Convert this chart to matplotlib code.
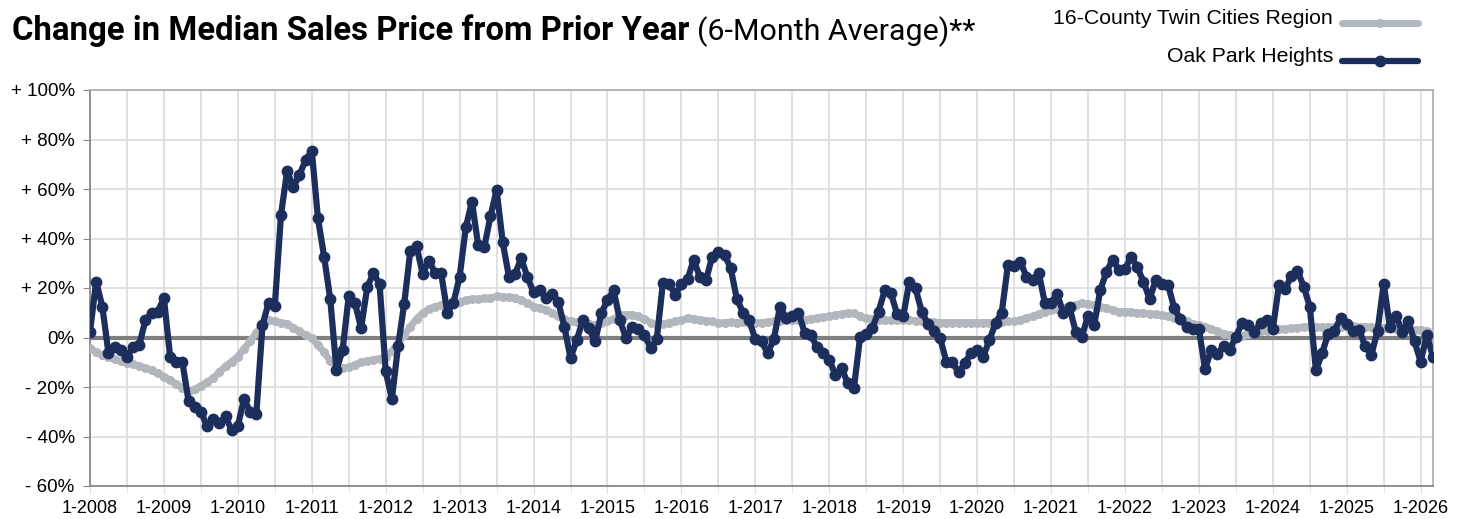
import matplotlib
matplotlib.use("Agg")
import matplotlib.pyplot as plt
from matplotlib.lines import Line2D

# monthly values, 1-2008 .. 3-2026 (percent change, 6-month average)
region = [
    -4.3, -5.8, -7.0, -8.0, -8.8, -9.6, -10.2, -10.7, -11.5, -12.3, -13.3, -14.5,
    -15.8, -17.3, -18.8, -20.3, -21.8, -21.0, -19.5, -18.0, -16.4, -14.0, -11.7, -9.7,
    -7.7, -4.5, -1.5, 2.0, 5.0, 7.0, 6.5, 6.0, 5.5, 4.0, 2.5, 1.0,
    -0.3, -3.0, -6.0, -9.5, -11.7, -12.4, -12.0, -11.0, -10.0, -9.5, -9.0, -8.5,
    -7.7, -5.5, -2.3, 1.0, 4.4, 7.5, 9.8, 11.5, 12.5, 13.0, 13.2, 14.0,
    14.5, 15.0, 15.5, 15.5, 15.8, 16.0, 16.6, 16.5, 16.2, 15.8, 15.0, 14.0,
    12.5, 12.0, 11.2, 10.0, 8.5, 7.5, 6.5, 6.2, 6.0, 5.5, 5.1, 5.8,
    6.5, 7.5, 9.0, 9.2, 9.2, 8.5, 7.5, 6.0, 5.1, 5.5, 6.0, 6.5,
    7.0, 7.8, 7.5, 7.1, 6.8, 6.5, 5.8, 6.0, 6.2, 6.0, 6.2, 6.0,
    6.0, 6.0, 6.2, 6.5, 6.8, 7.1, 7.1, 7.0, 7.2, 7.5, 7.8, 8.2,
    8.5, 9.0, 9.5, 9.8, 9.8, 8.5, 7.8, 7.5, 7.1, 7.0, 7.0, 7.1,
    7.1, 7.0, 6.8, 6.5, 6.3, 6.2, 6.0, 6.0, 6.0, 6.0, 6.0, 6.0,
    6.0, 6.0, 6.0, 6.2, 6.3, 6.5, 6.5, 7.0, 7.8, 8.5, 9.5, 10.5,
    11.0, 11.5, 11.8, 12.5, 13.2, 13.9, 13.5, 13.0, 12.5, 11.8, 11.0, 10.5,
    10.5, 10.2, 10.0, 9.8, 9.6, 9.3, 9.0, 8.5, 8.0, 7.5, 6.5, 5.5,
    5.0, 4.4, 3.5, 2.5, 1.5, 1.1, 0.5, 0.8, 1.5, 2.0, 2.5, 2.8,
    3.1, 3.3, 3.5, 3.8, 4.0, 4.2, 4.4, 4.4, 4.2, 4.2, 4.3, 4.4,
    4.4, 4.5, 4.4, 4.3, 4.2, 4.0, 3.8, 3.8, 3.6, 3.5, 3.3, 3.1,
    3.0, 2.5, 2.0,
]

oak_park = [
    2.4, 22.6, 12.5, -6.3, -3.9, -5.2, -7.7, -3.9, -3.0, 7.1, 9.8, 10.5,
    15.9, -7.7, -9.7, -10.0, -25.8, -27.9, -29.9, -35.9, -33.0, -34.6, -31.9, -37.5,
    -35.7, -24.9, -29.9, -30.8, 5.1, 14.1, 12.8, 49.5, 67.3, 60.7, 65.7, 71.7,
    75.4, 48.2, 32.7, 15.5, -13.0, -5.2, 16.8, 14.1, 3.8, 20.3, 26.0, 21.7,
    -13.7, -24.9, -3.6, 13.6, 35.1, 37.0, 25.7, 31.1, 26.2, 26.0, 10.1, 14.1,
    24.6, 44.5, 54.9, 37.4, 36.5, 48.9, 59.6, 38.4, 24.6, 25.7, 32.0, 24.4,
    18.2, 19.2, 15.9, 17.6, 14.5, 4.4, -8.3, -1.2, 7.1, 3.8, -1.6, 9.8,
    15.2, 19.0, 7.1, -0.3, 4.4, 3.4, 1.1, -4.3, -0.7, 22.2, 21.7, 17.2,
    21.7, 23.6, 31.4, 24.4, 23.3, 32.7, 34.7, 33.4, 28.0, 15.5, 10.1, 6.9,
    -0.7, -1.6, -6.3, -0.7, 12.5, 7.8, 8.5, 10.1, 2.0, 1.1, -3.9, -6.1,
    -9.0, -15.1, -12.4, -18.4, -20.5, 0.1, 1.5, 3.8, 10.5, 19.0, 17.9, 9.6,
    8.5, 22.6, 19.9, 10.5, 5.5, 2.8, -0.3, -9.7, -10.1, -14.1, -10.4, -6.1,
    -5.0, -7.7, -0.9, 5.8, 10.1, 29.3, 28.9, 30.7, 24.6, 23.3, 26.2, 13.9,
    14.1, 17.6, 9.8, 12.2, 2.4, 0.4, 8.7, 5.1, 19.2, 26.6, 31.4, 27.3,
    27.6, 32.7, 28.4, 22.6, 15.5, 23.3, 21.7, 21.3, 11.8, 7.4, 4.2, 3.4,
    3.4, -12.8, -5.0, -6.6, -3.6, -5.0, 0.4, 5.8, 5.1, 2.4, 5.8, 7.1,
    3.4, 21.3, 19.5, 24.9, 27.0, 20.6, 12.5, -13.3, -6.3, 1.5, 2.8, 7.8,
    5.5, 2.8, 3.1, -3.6, -7.0, 2.8, 21.7, 4.4, 8.7, 2.4, 6.5, -1.6,
    -9.7, 1.1, -7.9,
]

years = list(range(2008, 2027))
x_labels = [f"1-{y}" for y in years]
y_ticks = [100, 80, 60, 40, 20, 0, -20, -40, -60]
y_labels = ["+ 100%", "+ 80%", "+ 60%", "+ 40%", "+ 20%", "0%", "- 20%", "- 40%", "- 60%"]

gray = "#b1b7bd"
navy = "#1c2e5c"
FONT = ["Liberation Sans", "DejaVu Sans"]
plt.rcParams["font.family"] = FONT

W, H = 1466, 519
fig = plt.figure(figsize=(W / 100, H / 100), dpi=100)
ax = fig.add_axes([90 / W, 1 - 486 / H, (1433 - 90) / W, (486 - 90) / H])

months = list(range(len(oak_park)))
ax.plot(months, region, color=gray, lw=5, marker="o", ms=5.5, zorder=3,
        solid_capstyle="round")
ax.plot(months, oak_park, color=navy, lw=4.5, marker="o", ms=7.5, zorder=4,
        solid_capstyle="round")
ax.axhline(0, color="#7f7f7f", lw=3, zorder=2)

ax.set_xlim(0, len(oak_park) - 1)
ax.set_ylim(-60, 100)
ax.set_xticks([12 * i for i in range(len(years))])
ax.set_xticklabels(x_labels, fontsize=13)
ax.set_xticks([6 + 12 * i for i in range(len(years) - 1)], minor=True)
ax.set_yticks(y_ticks)
ax.set_yticklabels(y_labels, fontsize=13.5)
ax.grid(True, which="both", color="#dddddd", lw=1.3, zorder=0)
ax.tick_params(axis="y", length=5, color="#888888", pad=6)
ax.tick_params(axis="x", which="both", length=5, color="#dddddd", pad=5)

for side in ["left", "bottom"]:
    ax.spines[side].set_color("#888888")
    ax.spines[side].set_linewidth(1.3)
for side in ["top", "right"]:
    ax.spines[side].set_color("#aaaaaa")
    ax.spines[side].set_linewidth(1.2)

# title: no condensed face installed, so fit the font size to the reference widths
renderer = fig.canvas.get_renderer()
TITLE_FONT = ["Roboto", "DejaVu Sans"]


def fitted_text(x_px, text, width_px, **kw):
    t = fig.text(x_px / W, 1 - 40 / H, text, fontsize=26, family=TITLE_FONT,
                 ha="left", va="baseline", **kw)
    w = t.get_window_extent(renderer).width
    t.set_fontsize(26 * width_px / w)
    return t


fitted_text(12, "Change in Median Sales Price from Prior Year", 678, fontweight="bold")
fitted_text(697, "(6-Month Average)**", 278)

# legend drawn by hand at the top right
for label, color, ypix, ms, lw in [("16-County Twin Cities Region", gray, 19, 5.5, 5),
                                   ("Oak Park Heights", navy, 57, 7.5, 4.5)]:
    fig.text(1333 / W, 1 - ypix / H, label, fontsize=15.3, ha="right", va="center")
    fig.add_artist(Line2D([1342 / W, 1418 / W], [1 - (ypix + 4) / H] * 2,
                          transform=fig.transFigure, color=color, lw=lw,
                          solid_capstyle="round"))
    fig.add_artist(Line2D([1380 / W], [1 - (ypix + 4) / H], transform=fig.transFigure,
                          color=color, marker="o", ms=ms))

fig.savefig("out.png", dpi=100)
